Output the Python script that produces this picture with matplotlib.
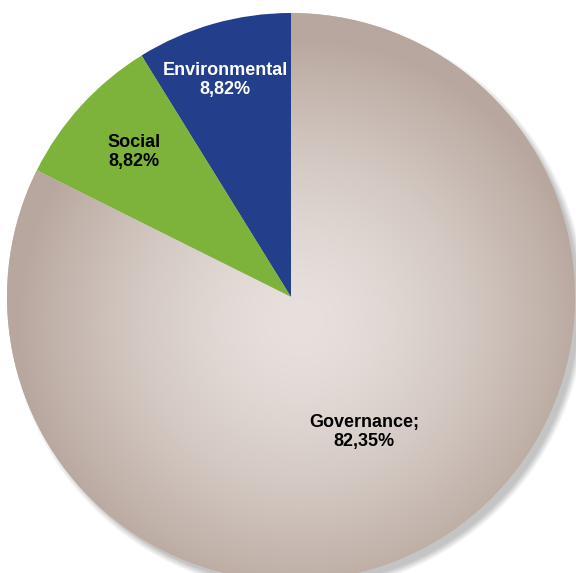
import numpy as np
import matplotlib
matplotlib.use("Agg")
import matplotlib.pyplot as plt
from matplotlib.patches import Circle

# data
categories = ["Environmental", "Social", "Governance"]
shares = [8.82, 8.82, 82.35]
colors = ["#233f8c", "#7db33a", "#c9bab2"]
label_seps = ["", "", ";"]  # governance label has a semicolon in the source

W, H = 576, 573
cx, cy, R = 291, H - 297, 284

fig = plt.figure(figsize=(W / 100, H / 100), dpi=100)
ax = fig.add_axes([0, 0, 1, 1])

# soft drop shadow (bottom right)
for k in range(12):
    ax.add_patch(Circle((cx + 6, cy - 7), R - 2 + k * 0.6, color="black",
                        alpha=0.02, lw=0, zorder=0))
ax.add_patch(Circle((cx + 3, cy - 4), R, color="#c4c4c4", lw=0, zorder=0.5))

wedges, _ = ax.pie(shares, colors=colors, startangle=90, counterclock=True,
                   center=(cx, cy), radius=R, frame=True,
                   wedgeprops=dict(linewidth=0))
for w in wedges:
    w.set_zorder(2)

# radial gradient on governance slice
gx, gy = np.meshgrid(np.linspace(0, W, 400), np.linspace(0, H, 400))
d = np.hypot(gx - (cx + 10), gy - (cy - 25)) / R
d = np.clip(d, 0, 1) ** 1.6
c0 = np.array(matplotlib.colors.to_rgb("#e7e0dc"))
c1 = np.array(matplotlib.colors.to_rgb("#b8a79e"))
img = c0[None, None, :] * (1 - d[..., None]) + c1[None, None, :] * d[..., None]
im = ax.imshow(img, extent=(0, W, 0, H), origin="lower", zorder=3,
               interpolation="bilinear")
im.set_clip_path(wedges[2])

ax.set_xlim(0, W)
ax.set_ylim(0, H)
ax.set_aspect("equal")
ax.axis("off")

# labels
label_pos = [(225, H - 80), (134, H - 152), (364, H - 432)]
text_colors = ["white", "black", "black"]
for name, val, sep, (x, y), tc in zip(categories, shares, label_seps,
                                      label_pos, text_colors):
    txt = name + sep + "\n" + f"{val:.2f}".replace(".", ",") + "%"
    ax.text(x, y, txt, ha="center", va="center", color=tc,
            fontsize=13, fontweight="bold", family="Liberation Sans",
            linespacing=1.15, zorder=5)

fig.savefig("out.png", dpi=100)
